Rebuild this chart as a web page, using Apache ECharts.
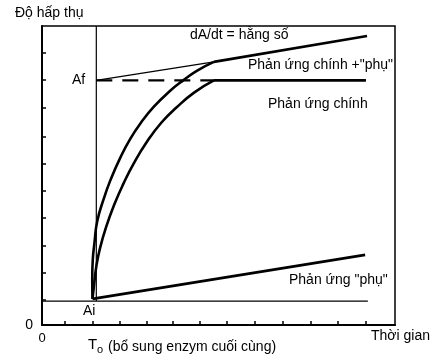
<!DOCTYPE html>
<html><head><meta charset="utf-8">
<script src="https://cdn.jsdelivr.net/npm/echarts@6/dist/echarts.min.js"></script>
<style>html,body{margin:0;padding:0;background:#fff}#c{width:445px;height:364px}</style>
</head><body><div id="c"></div>
<script>
// Data (x = time units, y = absorbance units)
const AI = 0.88;
const AF = 9.0;
const T0 = 2.0;
const xTickValues = [0.85, 1.88, 2.87, 3.87, 4.83, 5.82, 6.81, 7.84, 8.88, 9.91, 10.90, 11.93];
const yTickValues = [0.92, 1.91, 2.91, 3.94, 4.93, 5.92, 6.92, 7.98, 9.01, 10.01];
// "Phản ứng chính + phụ" curve
const mainSideCurve = [[1.86,0.96],[1.85,1.7],[1.87,2.4],[1.93,3.0],[2.03,3.8],[2.26,4.6],[2.52,5.33],[2.88,6.15],[3.25,6.85],[3.65,7.45],[4.12,8.03],[4.7,8.6],[5.2,9.0],[5.7,9.35],[6.33,9.68]];
const mainSideLinear = [[6.33,9.68],[11.97,10.63]];
const slopeExtrapolation = [[T0,AF],[6.33,9.68]];
// "Phản ứng chính" curve
const mainCurve = [[1.86,0.96],[1.92,1.5],[2.0,2.15],[2.13,2.8],[2.36,3.6],[2.67,4.45],[3.0,5.2],[3.38,5.95],[3.87,6.75],[4.4,7.45],[4.95,8.0],[5.6,8.55],[6.33,9.0]];
const mainPlateau = [[6.33,AF],[11.93,AF]];
const afDashed = [[T0,AF],[6.33,AF]];
// "Phản ứng phụ" line
const sideLine = [[1.86,0.96],[11.9,2.58]];
const aiLine = [[0,AI],[12.0,AI]];
const t0Line = [[T0,AI],[T0,11]];

const FONT = '"Liberation Sans", Arial, sans-serif';
const chart = echarts.init(document.getElementById('c'), null, {renderer:'canvas'});
function line(data, width, extra) {
  return Object.assign({
    type:'line', data:data, symbol:'none', silent:true, animation:false,
    lineStyle:{color:'#000', width:width}
  }, extra || {});
}
function txt(text, x, y, size) {
  return {type:'text', x:x, y:y, silent:true,
    style:{text:text, fill:'#000', font: size + 'px ' + FONT, verticalAlign:'middle', align:'left'}};
}
chart.setOption({
  animation:false,
  backgroundColor:'#fff',
  grid:{left:42, right:50, top:26, bottom:39, show:true, borderColor:'#000', borderWidth:1.5},
  xAxis:{type:'value', min:0, max:13,
    axisLine:{show:true, onZero:false, lineStyle:{color:'#000', width:2}},
    axisTick:{show:true, inside:true, length:4, customValues:xTickValues, lineStyle:{color:'#000', width:1.5}},
    axisLabel:{show:true, customValues:[0], margin:7, color:'#000', fontSize:13, fontFamily:FONT},
    splitLine:{show:false}},
  yAxis:{type:'value', min:0, max:11,
    axisLine:{show:true, onZero:false, lineStyle:{color:'#000', width:2}},
    axisTick:{show:true, inside:true, length:4, customValues:yTickValues, lineStyle:{color:'#000', width:1.5}},
    axisLabel:{show:true, customValues:[0], margin:9, color:'#000', fontSize:14, fontFamily:FONT, padding:[6,0,0,0]},
    splitLine:{show:false}},
  series:[
    line(aiLine, 1.2),
    line(t0Line, 1.2),
    line(slopeExtrapolation, 1.3),
    line(afDashed, 2.2, {lineStyle:{color:'#000', width:2.2, type:[16,10]}}),
    line(mainSideCurve, 2.6, {smooth:0.5}),
    line(mainSideLinear, 2.6),
    line(mainCurve, 2.6, {smooth:0.5}),
    line(mainPlateau, 2.6),
    line(sideLine, 2.6)
  ],
  graphic:[
    txt('Độ hấp thụ', 15, 13, 14),
    txt('dA/dt = hằng số', 190, 35, 14),
    txt('Phản ứng chính +"phụ"', 248, 65, 14),
    txt('Af', 72, 80, 14),
    txt('Phản ứng chính', 268, 104, 14),
    txt('Phản ứng "phụ"', 289, 280, 14),
    txt('Ai', 83, 311, 14),
    txt('Thời gian', 371, 336, 14),
    txt('T', 88, 345, 15),
    txt('o', 97, 350, 11),
    txt('(bổ sung enzym cuối cùng)', 108, 347, 14)
  ]
});
</script>
</body></html>
